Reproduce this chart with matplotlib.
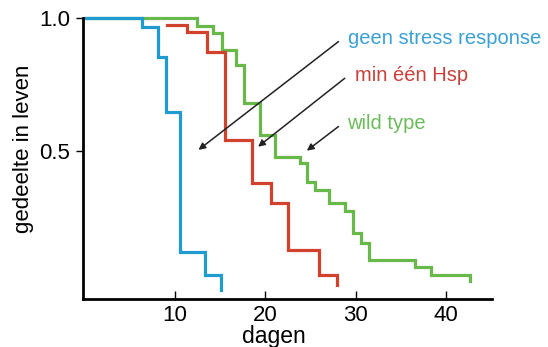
import matplotlib
matplotlib.use("Agg")
import matplotlib.pyplot as plt

plt.rcParams['font.family'] = ['Liberation Sans', 'DejaVu Sans']

# Data (days, fraction alive) — step curves
blue_days = [0, 6.4, 8.15, 9.0, 10.6, 13.3, 15.1]
blue_surv = [1.0, 0.968, 0.853, 0.648, 0.121, 0.033, -0.024]

red_days = [9.1, 11.3, 13.5, 15.5, 18.5, 20.6, 22.5, 25.9, 27.9]
red_surv = [0.975, 0.95, 0.874, 0.541, 0.38, 0.303, 0.127, 0.033, -0.005]

green_days = [0, 12.4, 14.2, 15.2, 16.7, 17.6, 19.4, 21.1, 23.8, 24.6, 25.5,
              27.0, 28.8, 29.7, 30.6, 31.5, 36.6, 38.3, 42.7]
green_surv = [1.0, 0.971, 0.943, 0.88, 0.824, 0.68, 0.56, 0.479, 0.454, 0.384,
              0.353, 0.303, 0.274, 0.19, 0.153, 0.089, 0.064, 0.033, 0.008]

labels = ["geen stress response", "min één Hsp", "wild type"]
xticks = [10, 20, 30, 40]
yticks = [0.5, 1.0]
ytick_labels = ["0.5", "1.0"]

blue = "#1f9bd0"
red = "#d2412b"
green = "#67b94a"
blue_t = "#3aa0d6"
red_t = "#c9403a"
green_t = "#6cbb5a"

fig = plt.figure(figsize=(5.48, 3.47), dpi=100)
ax = fig.add_axes([82.7 / 548, 1 - 299 / 347, (492 - 82.7) / 548, (299 - 18) / 347])

lw = 2.3
ax.step(green_days, green_surv, where='post', color=green, lw=lw, clip_on=False, solid_joinstyle='miter')
ax.step(red_days, red_surv, where='post', color=red, lw=lw, clip_on=False, solid_joinstyle='miter')
ax.step(blue_days, blue_surv, where='post', color=blue, lw=lw, clip_on=False, solid_joinstyle='miter')

ax.set_xlim(-0.22, 45.1)
ax.set_ylim(-0.058, 1.001)

for s in ['top', 'right']:
    ax.spines[s].set_visible(False)
for s in ['left', 'bottom']:
    ax.spines[s].set_linewidth(2.0)

ax.set_xticks(xticks)
ax.set_yticks(yticks)
ax.set_yticklabels(ytick_labels)
ax.tick_params(axis='x', direction='in', length=6, width=1.0, pad=4, labelsize=16)
ax.tick_params(axis='y', direction='out', length=5, width=1.0, pad=4, labelsize=16)

ax.set_xlabel("dagen", fontsize=16.5)
ax.xaxis.label.set_va('center')
ax.xaxis.set_label_coords(0.466, -0.134)
ax.set_ylabel("gedeelte in leven", fontsize=16)
ax.yaxis.label.set_va('center')
ax.yaxis.set_label_coords(-0.145, 0.534)

ap = dict(arrowstyle='-|>', color='#222222', lw=1.1, mutation_scale=10, shrinkA=0, shrinkB=0)
ax.annotate("", xy=(12.6, 0.504), xytext=(28.1, 0.912), arrowprops=ap)
ax.annotate("", xy=(19.2, 0.516), xytext=(28.8, 0.774), arrowprops=ap)
ax.annotate("", xy=(24.6, 0.501), xytext=(28.1, 0.592), arrowprops=ap)

ax.text(29.2, 0.925, labels[0], color=blue_t, fontsize=14.5, ha='left', va='center')
ax.text(29.9, 0.786, labels[1], color=red_t, fontsize=14.5, ha='left', va='center')
ax.text(29.1, 0.602, labels[2], color=green_t, fontsize=14.5, ha='left', va='center')

fig.savefig("out.png", dpi=100)
